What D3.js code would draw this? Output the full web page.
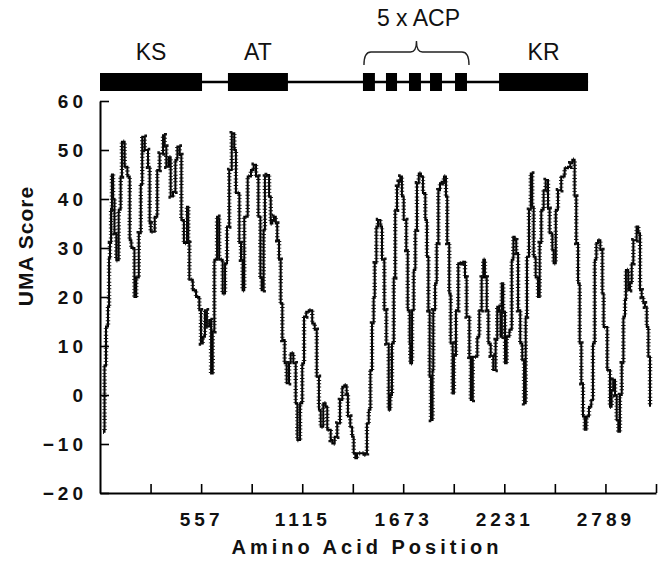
<!DOCTYPE html>
<html>
<head>
<meta charset="utf-8">
<script src="https://cdn.jsdelivr.net/npm/d3@7"></script>
<style>
  body { margin: 0; background: #fff; }
  text { font-family: "Liberation Sans", Arial, sans-serif; }
</style>
</head>
<body>
<div id="chart"></div>
<script>
// amino acid positions and UMA scores
var positions = [17, 25, 33, 44, 50, 55, 61, 66, 72, 80, 90, 103, 114, 121, 136, 151, 164, 173, 190, 200,
  214, 225, 233, 247, 265, 274, 280, 302, 316, 329, 348, 357, 366, 379, 390, 403, 416, 427, 440, 449,
  463, 480, 487, 493, 512, 530, 548, 557, 567, 579, 590, 603, 613, 622, 631, 646, 653, 658, 677, 690,
  701, 713, 727, 741, 750, 769, 778, 787, 796, 815, 833, 848, 861, 874, 885, 892, 903, 910, 920, 933,
  942, 951, 960, 970, 978, 988, 997, 1006, 1019, 1030, 1043, 1052, 1067, 1080, 1089, 1104, 1116, 1126, 1138, 1153,
  1171, 1185, 1196, 1208, 1218, 1232, 1245, 1254, 1273, 1282, 1295, 1309, 1324, 1337, 1350, 1361, 1368, 1381, 1391, 1400,
  1409, 1418, 1436, 1455, 1464, 1473, 1483, 1492, 1501, 1510, 1516, 1525, 1534, 1547, 1556, 1569, 1580, 1593, 1602, 1611,
  1621, 1629, 1639, 1648, 1657, 1666, 1676, 1690, 1698, 1709, 1712, 1722, 1731, 1740, 1749, 1759, 1771, 1782, 1795, 1804,
  1812, 1819, 1826, 1835, 1839, 1849, 1858, 1867, 1876, 1885, 1898, 1909, 1916, 1927, 1935, 1946, 1953, 1964, 1977, 1990,
  2005, 2014, 2023, 2038, 2046, 2057, 2069, 2082, 2093, 2106, 2115, 2124, 2134, 2143, 2156, 2170, 2183, 2192, 2202, 2211,
  2217, 2225, 2235, 2244, 2259, 2272, 2281, 2288, 2297, 2307, 2319, 2330, 2340, 2349, 2356, 2367, 2377, 2385, 2393, 2404,
  2417, 2426, 2435, 2448, 2459, 2472, 2481, 2496, 2503, 2515, 2527, 2545, 2564, 2582, 2595, 2606, 2619, 2628, 2638, 2647,
  2656, 2665, 2675, 2684, 2698, 2711, 2720, 2730, 2739, 2748, 2761, 2772, 2779, 2799, 2814, 2823, 2832, 2842, 2851, 2860,
  2869, 2879, 2888, 2897, 2902, 2915, 2925, 2934, 2943, 2961, 2970, 2980, 2989, 2998, 3007, 3017, 3026, 3035];
var scores = [-7.5, 6, 14, 18, 28, 31, 38, 45, 40, 33, 27.5, 37.8, 44.6, 51.7, 46.6, 44.6, 31.6, 30, 20, 24,
  33, 43, 52.7, 50, 46.6, 35, 33.3, 36.4, 45.9, 49.3, 53, 50.7, 46.6, 48.5, 40.5, 41.5, 48, 50.7, 49, 35.7,
  31, 38.4, 31, 23.5, 21.4, 20, 17.3, 10.5, 11.9, 17.3, 14, 15.3, 4.4, 13, 27.6, 36.4, 36, 27.6, 20.7, 26.9,
  34.4, 45.9, 53.4, 50, 41.2, 31, 27.6, 21.4, 36.4, 44.6, 45.9, 47, 44.6, 36.4, 24, 21.4, 33.7, 44.6, 44.9, 40.5,
  35, 35.7, 36.4, 35, 31.6, 27.6, 18.7, 11.2, 6.5, 2.4, 6.5, 8.5, 6.5, -1.7, -9.2, -1.7, 6.5, 16, 17, 17.3,
  14.6, 13.3, 3.7, -3, -6.5, -1.7, -2.4, -7.1, -9.2, -9.9, -8.5, -5.8, -1, 1.7, 2, 0.3, -4.4, -6.5, -8.5, -11.9,
  -12.9, -11.9, -11.9, -12.2, -11.9, -5.8, -3, 5.1, 14.6, 20, 26.9, 34.4, 35.7, 34.4, 27.6, 17.3, 10.5, -3, 0, 10.5,
  24, 37.8, 42.5, 43.5, 44.6, 40.5, 35.7, 29.6, 17.3, 10.5, 6.5, 17.3, 25.5, 33.7, 43.2, 45.2, 44.6, 41.2, 35.7, 28.2,
  17.3, 3.7, -5.1, 5, 17.3, 22.8, 31, 41.8, 43.2, 43.5, 44.6, 40.5, 31, 20.7, 10.5, 0.3, 8, 17.3, 26.9, 27,
  27.2, 24, 16, 7.8, -1, 7.8, 7.8, 11.9, 17.3, 24, 27.6, 24, 17.3, 10.5, 8, 5.1, 11.2, 18, 17, 11.9,
  22.8, 17, 6.5, 11.9, 13.3, 27.6, 32.3, 31.6, 29, 17.3, 10.5, 7.1, -1.7, 16, 28.2, 37.8, 45.2, 38.4, 28.2, 24,
  20, 31, 37.8, 41.8, 43.9, 38, 33, 29.6, 26.9, 37.8, 41.8, 44.6, 46.3, 46.6, 47.3, 48, 40.5, 31, 22.8, 10.5,
  2.4, -4.4, -7.1, -4.4, -2.4, -1, 10.5, 27.6, 31, 31.6, 29.6, 20.7, 13.9, 5.1, -2.4, 1, 3.1, 0, -5.1, -7.5,
  0, 6.5, 16, 19.4, 25.5, 21.4, 22.8, 26.9, 31.6, 34.4, 33, 21.4, 20, 18.7, 18, 13.9, 7.8, -2.4];

var proteinLength = 3068;
var xTicks = [279, 558, 837, 1116, 1395, 1673, 1952, 2231, 2510, 2789, 3068];
var xLabels = [557, 1115, 1673, 2231, 2789];
var yTicks = [-20, -10, 0, 10, 20, 30, 40, 50, 60];

// domain map on top
var domainNames = ["KS", "AT", "ACP", "ACP", "ACP", "ACP", "ACP", "KR"];
var domainStart = [0, 706, 1451, 1578, 1705, 1821, 1959, 2202];
var domainEnd = [563, 1037, 1517, 1639, 1771, 1887, 2025, 2693];

var width = 664, height = 563;
var margin = { top: 101, right: 8, bottom: 70, left: 100 };

var svg = d3.select("#chart").append("svg")
    .attr("width", width)
    .attr("height", height);

var x = d3.scaleLinear().domain([0, proteinLength]).range([margin.left, 656]);
var y = d3.scaleLinear().domain([-20, 60]).range([493, margin.top]);

// y axis
var yAxis = svg.append("g")
    .attr("transform", "translate(" + margin.left + ",0)")
    .call(d3.axisLeft(y).tickValues(yTicks).tickSizeInner(-9).tickSizeOuter(0).tickPadding(13));
yAxis.select(".domain").attr("stroke-width", 2);
yAxis.selectAll(".tick line").attr("stroke-width", 1.6);
yAxis.selectAll("text")
    .style("font-family", "'Liberation Sans', Arial, sans-serif")
    .style("font-size", "19px")
    .style("font-weight", "bold")
    .style("letter-spacing", "4px")
    .attr("fill", "#111");

// x axis
var xAxis = svg.append("g")
    .attr("transform", "translate(0,493)")
    .call(d3.axisBottom(x).tickValues(xTicks).tickSizeInner(-9).tickSizeOuter(0).tickPadding(20)
        .tickFormat(function (d, i) { return i % 2 == 1 ? xLabels[(i - 1) / 2] : ""; }));
xAxis.select(".domain").attr("stroke-width", 2);
xAxis.selectAll(".tick line").attr("stroke-width", 1.6);
xAxis.selectAll("text")
    .style("font-family", "'Liberation Sans', Arial, sans-serif")
    .style("font-size", "19px")
    .style("font-weight", "bold")
    .style("letter-spacing", "4px")
    .attr("fill", "#111");

// axis titles
svg.append("text")
    .attr("x", 367)
    .attr("y", 554)
    .attr("text-anchor", "middle")
    .style("font-size", "20px")
    .style("font-weight", "bold")
    .style("letter-spacing", "4px")
    .attr("fill", "#111")
    .text("Amino Acid Position");

svg.append("text")
    .attr("transform", "translate(33,246) rotate(-90)")
    .attr("text-anchor", "middle")
    .style("font-size", "21px")
    .style("font-weight", "bold")
    .style("letter-spacing", "1px")
    .attr("fill", "#111")
    .text("UMA Score");

// the UMA trace
var pts = positions.map(function (p, i) { return [p, scores[i]]; });
var line = d3.line()
    .x(function (d) { return x(d[0]); })
    .y(function (d) { return y(d[1]); })
    .curve(d3.curveStepAfter);

svg.append("path")
    .datum(pts)
    .attr("d", line)
    .attr("fill", "none")
    .attr("stroke", "#000")
    .attr("stroke-width", 2);

// little marker ticks along the trace
svg.append("path")
    .datum(pts)
    .attr("d", line)
    .attr("fill", "none")
    .attr("stroke", "#111")
    .attr("stroke-width", 4.5)
    .attr("stroke-dasharray", "0.9 2.4");

// domain map
var barY = 82;
svg.append("line")
    .attr("x1", x(domainStart[0]))
    .attr("x2", x(domainEnd[domainEnd.length - 1]))
    .attr("y1", barY).attr("y2", barY)
    .attr("stroke", "#000")
    .attr("stroke-width", 2.5);

svg.selectAll(".dom")
    .data(domainNames)
    .enter()
    .append("rect")
    .attr("x", function (d, i) { return x(domainStart[i]); })
    .attr("y", barY - 9)
    .attr("width", function (d, i) { return x(domainEnd[i]) - x(domainStart[i]); })
    .attr("height", 18)
    .attr("fill", "#000");

var single = ["KS", "AT", "KR"];
single.forEach(function (name) {
    var i = domainNames.indexOf(name);
    svg.append("text")
        .attr("x", (x(domainStart[i]) + x(domainEnd[i])) / 2)
        .attr("y", 60)
        .attr("text-anchor", "middle")
        .style("font-size", "23px")
        .attr("fill", "#111")
        .text(name);
});

// brace over the ACP repeats
var first = domainNames.indexOf("ACP"), last = domainNames.lastIndexOf("ACP");
var bx1 = x(domainStart[first]) + 1, bx2 = x(domainEnd[last]) + 2, cx = (bx1 + bx2) / 2;
svg.append("path")
    .attr("d", "M" + bx1 + ",65 Q" + bx1 + ",52 " + (bx1 + 7) + ",52 L" + (cx - 6) + ",52 Q" + cx + ",52 " + cx + ",41"
        + " Q" + cx + ",52 " + (cx + 6) + ",52 L" + (bx2 - 7) + ",52 Q" + bx2 + ",52 " + bx2 + ",65")
    .attr("fill", "none")
    .attr("stroke", "#222")
    .attr("stroke-width", 1.4);

svg.append("text")
    .attr("x", cx + 2)
    .attr("y", 26)
    .attr("text-anchor", "middle")
    .style("font-size", "23px")
    .attr("fill", "#111")
    .text("5 x ACP");
</script>
</body>
</html>
